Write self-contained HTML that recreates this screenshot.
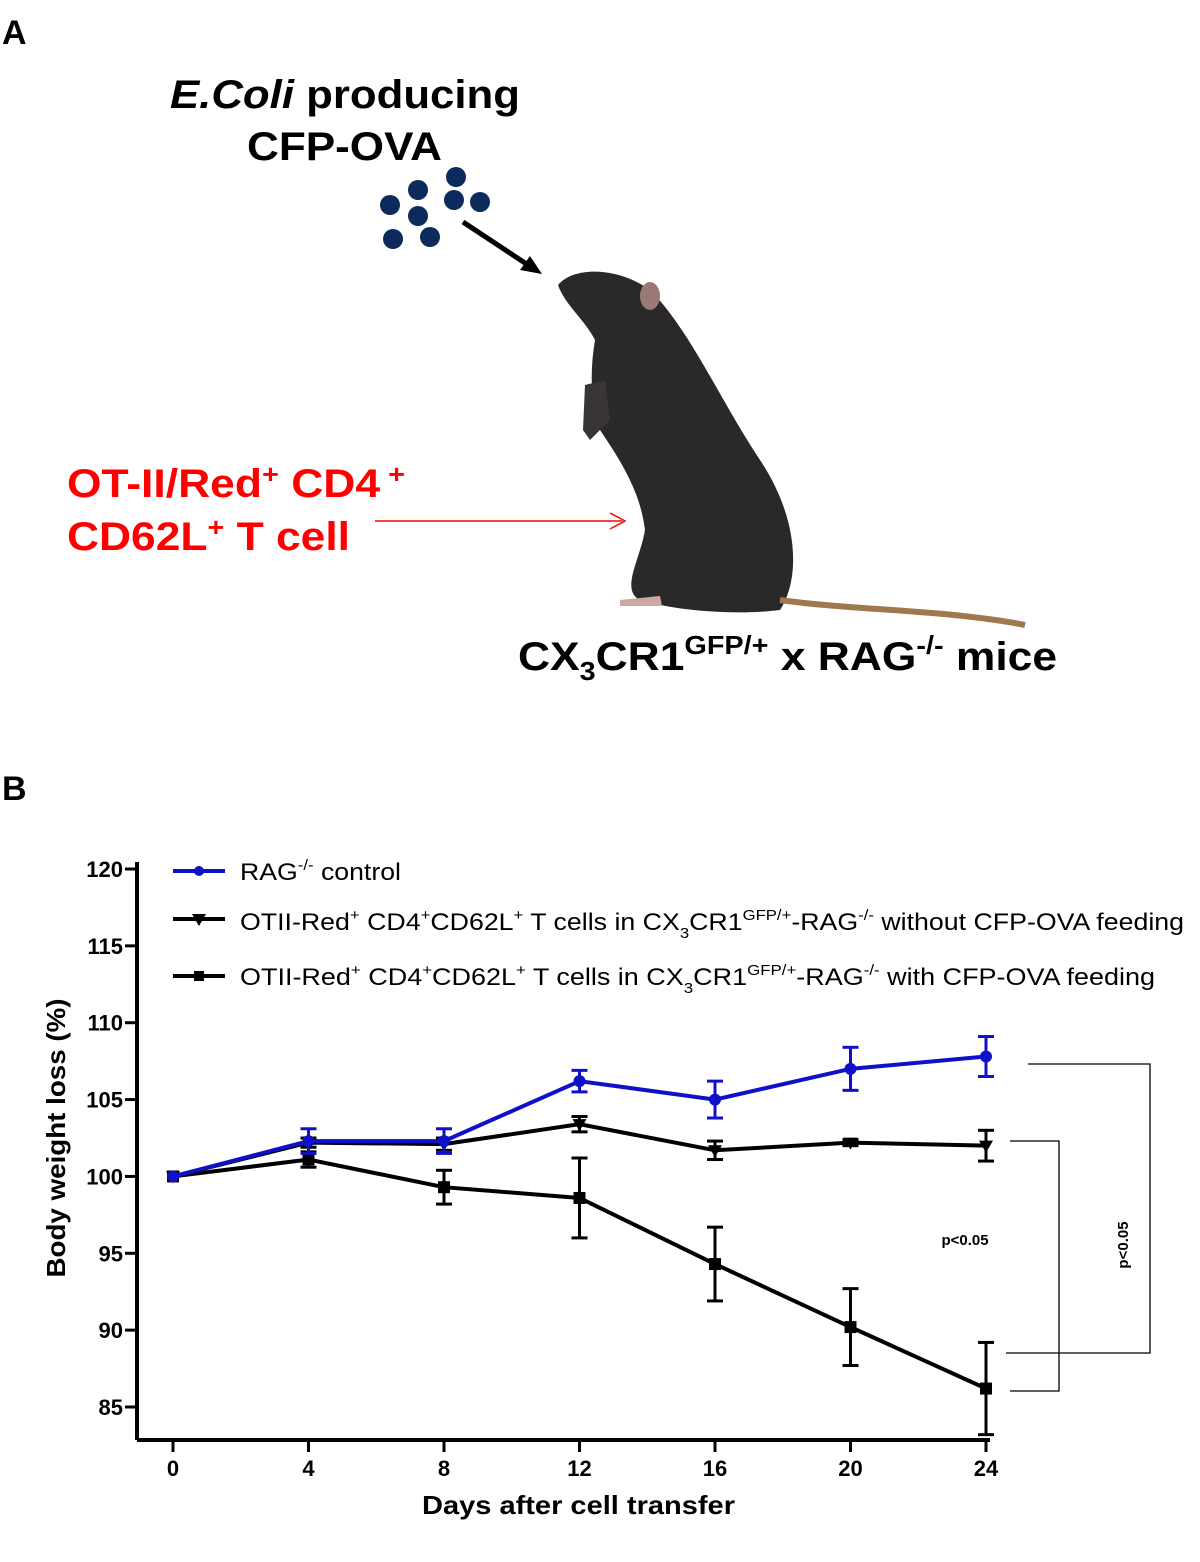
<!DOCTYPE html>
<html><head><meta charset="utf-8">
<style>
body{margin:0;background:#fff;}
svg{display:block;font-family:"Liberation Sans",Arial,sans-serif;}
</style></head>
<body>
<svg width="1200" height="1562" viewBox="0 0 1200 1562">
<!-- Panel A -->
<text x="2" y="44" font-size="34" font-weight="bold">A</text>
<text x="170" y="108" font-size="40" font-weight="bold" textLength="350" lengthAdjust="spacingAndGlyphs"><tspan font-style="italic">E.Coli</tspan> producing</text>
<text x="247" y="160" font-size="40" font-weight="bold" textLength="195" lengthAdjust="spacingAndGlyphs">CFP-OVA</text>
<g fill="#0d2a5c">
<circle cx="390" cy="205" r="10"/><circle cx="418" cy="190" r="10"/><circle cx="418" cy="216" r="10"/>
<circle cx="456" cy="177" r="10"/><circle cx="454" cy="200" r="10"/><circle cx="480" cy="202" r="10"/>
<circle cx="393" cy="239" r="10"/><circle cx="430" cy="237" r="10"/></g>
<line x1="463" y1="222" x2="528" y2="265" stroke="#000" stroke-width="5"/>
<polygon points="542,274 520,270 530,256" fill="#000"/>
<g>
<path d="M558,285 C575,265 620,268 650,290 C690,330 720,400 760,460 C800,520 800,580 780,610 C740,615 680,612 640,600 C620,590 640,560 645,530 C640,490 620,460 600,430 C590,400 590,370 595,340 C585,320 565,305 558,285Z" fill="#2a2828"/>
<path d="M585,385 L605,380 L610,420 L590,440 L583,430Z" fill="#3a3535"/>
<path d="M780,600 C850,610 950,610 1025,625" stroke="#a07850" stroke-width="6" fill="none"/>
<path d="M620,600 L660,596 L662,606 L620,606Z" fill="#c9a9a0"/>
<ellipse cx="650" cy="296" rx="10" ry="14" fill="#9a7a78"/>
</g>
<text x="67" y="497" font-size="40" font-weight="bold" fill="#f00" textLength="338" lengthAdjust="spacingAndGlyphs">OT-II/Red<tspan font-size="26" dy="-14">+</tspan><tspan dy="14"> CD4</tspan><tspan font-size="26" dy="-14"> +</tspan></text>
<text x="67" y="550" font-size="40" font-weight="bold" fill="#f00" textLength="283" lengthAdjust="spacingAndGlyphs">CD62L<tspan font-size="26" dy="-14">+</tspan><tspan dy="14"> T cell</tspan></text>
<line x1="375" y1="521" x2="622" y2="521" stroke="#f00" stroke-width="1.5"/>
<polyline points="610,513 625,521 610,529" fill="none" stroke="#f00" stroke-width="1.5"/>
<text x="518" y="670" font-size="40" font-weight="bold" textLength="539" lengthAdjust="spacingAndGlyphs">CX<tspan font-size="26" dy="10">3</tspan><tspan dy="-10">CR1</tspan><tspan font-size="26" dy="-16">GFP/+</tspan><tspan dy="16"> x RAG</tspan><tspan font-size="26" dy="-16">-/-</tspan><tspan dy="16"> mice</tspan></text>
<!-- Panel B -->
<text x="2" y="800" font-size="34" font-weight="bold">B</text>
<g id="chart"></g>
<text x="422" y="1514" font-size="26" font-weight="bold" textLength="313" lengthAdjust="spacingAndGlyphs">Days after cell transfer</text>
<text transform="translate(65,1138) rotate(-90)" font-size="26" font-weight="bold" text-anchor="middle" textLength="279" lengthAdjust="spacingAndGlyphs">Body weight loss (%)</text>
<g font-size="24">
<g><line x1="173" y1="871" x2="225" y2="871" stroke="#1010c8" stroke-width="4"/><circle cx="199" cy="871" r="5" fill="#1010c8"/><text x="240" y="880" textLength="161" lengthAdjust="spacingAndGlyphs">RAG<tspan font-size="15" dy="-10">-/-</tspan><tspan dy="10"> control</tspan></text></g>
<g><line x1="173" y1="919" x2="225" y2="919" stroke="#000" stroke-width="4"/><polygon points="192,914 206,914 199,926" fill="#000"/><text x="240" y="930" textLength="944" lengthAdjust="spacingAndGlyphs">OTII-Red<tspan font-size="15" dy="-10">+</tspan><tspan dy="10"> CD4</tspan><tspan font-size="15" dy="-10">+</tspan><tspan dy="10">CD62L</tspan><tspan font-size="15" dy="-10">+</tspan><tspan dy="10"> T cells in CX</tspan><tspan font-size="15" dy="8">3</tspan><tspan dy="-8">CR1</tspan><tspan font-size="15" dy="-10">GFP/+</tspan><tspan dy="10">-RAG</tspan><tspan font-size="15" dy="-10">-/-</tspan><tspan dy="10"> without CFP-OVA feeding</tspan></text></g>
<g><line x1="173" y1="976" x2="225" y2="976" stroke="#000" stroke-width="4"/><rect x="194" y="971" width="10" height="10" fill="#000"/><text x="240" y="985" textLength="915" lengthAdjust="spacingAndGlyphs">OTII-Red<tspan font-size="15" dy="-10">+</tspan><tspan dy="10"> CD4</tspan><tspan font-size="15" dy="-10">+</tspan><tspan dy="10">CD62L</tspan><tspan font-size="15" dy="-10">+</tspan><tspan dy="10"> T cells in CX</tspan><tspan font-size="15" dy="8">3</tspan><tspan dy="-8">CR1</tspan><tspan font-size="15" dy="-10">GFP/+</tspan><tspan dy="10">-RAG</tspan><tspan font-size="15" dy="-10">-/-</tspan><tspan dy="10"> with CFP-OVA  feeding</tspan></text></g>
</g>
<g stroke="#000" stroke-width="1.3" fill="none">
<polyline points="1028,1064 1150,1064 1150,1353 1006,1353"/>
<polyline points="1010,1141 1059,1141 1059,1391 1010,1391"/>
</g>
<text x="965" y="1245" font-size="15" font-weight="bold" text-anchor="middle">p&lt;0.05</text>
<text transform="translate(1128,1245) rotate(-90)" font-size="15" font-weight="bold" text-anchor="middle">p&lt;0.05</text>
</svg>
<script>
const days=[0,4,8,12,16,20,24];
const controlMean=[100,102.3,102.3,106.2,105,107,107.8];
const controlErr=[0,0.8,0.8,0.7,1.2,1.4,1.3];
const withoutMean=[100,102.2,102.1,103.4,101.7,102.2,102.0];
const withoutErr=[0,0.3,0.4,0.5,0.6,0.2,1.0];
const withMean=[100,101.1,99.3,98.6,94.3,90.2,86.2];
const withErr=[0,0.5,1.1,2.6,2.4,2.5,3.0];
const yTicks=[85,90,95,100,105,110,115,120];
const xTicks=[0,4,8,12,16,20,24];
const NS="http://www.w3.org/2000/svg";
const g=document.getElementById('chart');
const X=d=>173+(d/24)*813;
const Y=v=>1407-(v-85)/35*538;
function mk(t,a,p){const e=document.createElementNS(NS,t);for(const k in a)e.setAttribute(k,a[k]);(p||g).appendChild(e);return e;}
const ya=mk('line',{x1:137,y1:862,x2:137,y2:1440,stroke:'#000','stroke-width':4});


const xa=mk('line',{x1:137,y1:1440,x2:990,y2:1440,stroke:'#000','stroke-width':4});


yTicks.forEach(v=>{mk('line',{x1:125,y1:Y(v),x2:137,y2:Y(v),stroke:'#000','stroke-width':3});
const t=mk('text',{x:123,y:Y(v)+8,'font-size':22,'font-weight':'bold','text-anchor':'end'});t.textContent=v;

});
xTicks.forEach(d=>{mk('line',{x1:X(d),y1:1440,x2:X(d),y2:1452,stroke:'#000','stroke-width':3});
const t=mk('text',{x:X(d),y:1476,'font-size':22,'font-weight':'bold','text-anchor':'middle'});t.textContent=d;

});
function series(m,e,col,shape,name){
const sg=mk('g',{});


mk('polyline',{points:days.map((d,i)=>X(d)+','+Y(m[i])).join(' '),fill:'none',stroke:col,'stroke-width':4},sg);
days.forEach((d,i)=>{const x=X(d);
if(e[i]>0){mk('line',{x1:x,y1:Y(m[i]+e[i]),x2:x,y2:Y(m[i]-e[i]),stroke:col,'stroke-width':3},sg);
[m[i]+e[i],m[i]-e[i]].forEach(v=>mk('line',{x1:x-8,y1:Y(v),x2:x+8,y2:Y(v),stroke:col,'stroke-width':3},sg));}
const y=Y(m[i]);let p;
if(shape==='c')p=mk('circle',{cx:x,cy:y,r:6,fill:col},sg);
else if(shape==='t')p=mk('polygon',{points:`${x-7},${y-5} ${x+7},${y-5} ${x},${y+7}`,fill:col},sg);
else p=mk('rect',{x:x-6,y:y-6,width:12,height:12,fill:col},sg);

});}
series(withMean,withErr,'#000','s','series-with-feeding');
series(withoutMean,withoutErr,'#000','t','series-without-feeding');
series(controlMean,controlErr,'#1010c8','c','series-control');
</script>
</body></html>
